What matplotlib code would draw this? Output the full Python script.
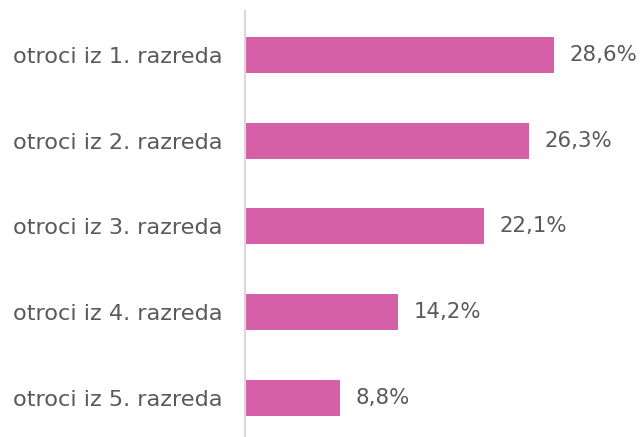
import matplotlib
matplotlib.use("Agg")
import matplotlib.pyplot as plt

categories = ["otroci iz 1. razreda", "otroci iz 2. razreda", "otroci iz 3. razreda",
              "otroci iz 4. razreda", "otroci iz 5. razreda"]
values = [28.6, 26.3, 22.1, 14.2, 8.8]
labels = ["28,6%", "26,3%", "22,1%", "14,2%", "8,8%"]

plt.rcParams['font.family'] = ['DejaVu Sans']
text_color = "#595959"

fig = plt.figure(figsize=(6.4, 4.37), dpi=100)
ax = fig.add_axes([245/640, 0, 395/640, 426/437])
y = list(range(len(categories)))
ax.barh(y, values, height=0.42, color="#D660A8")
ax.set_xlim(0, 36.6)
ax.set_ylim(4.455, -0.513)
for yi, v, lab in zip(y, values, labels):
    ax.text(v + 1.45, yi, lab, va="center", ha="left", fontsize=15.3, color=text_color)
ax.set_yticks(y)
ax.set_yticklabels(categories, fontsize=16.1, color=text_color)
ax.tick_params(axis="y", length=0, pad=16)
ax.set_xticks([])
for s in ["top", "right", "bottom"]:
    ax.spines[s].set_visible(False)
ax.spines["left"].set_color("#D9D9D9")
ax.spines["left"].set_linewidth(1.5)
fig.savefig("out.png", dpi=100)
